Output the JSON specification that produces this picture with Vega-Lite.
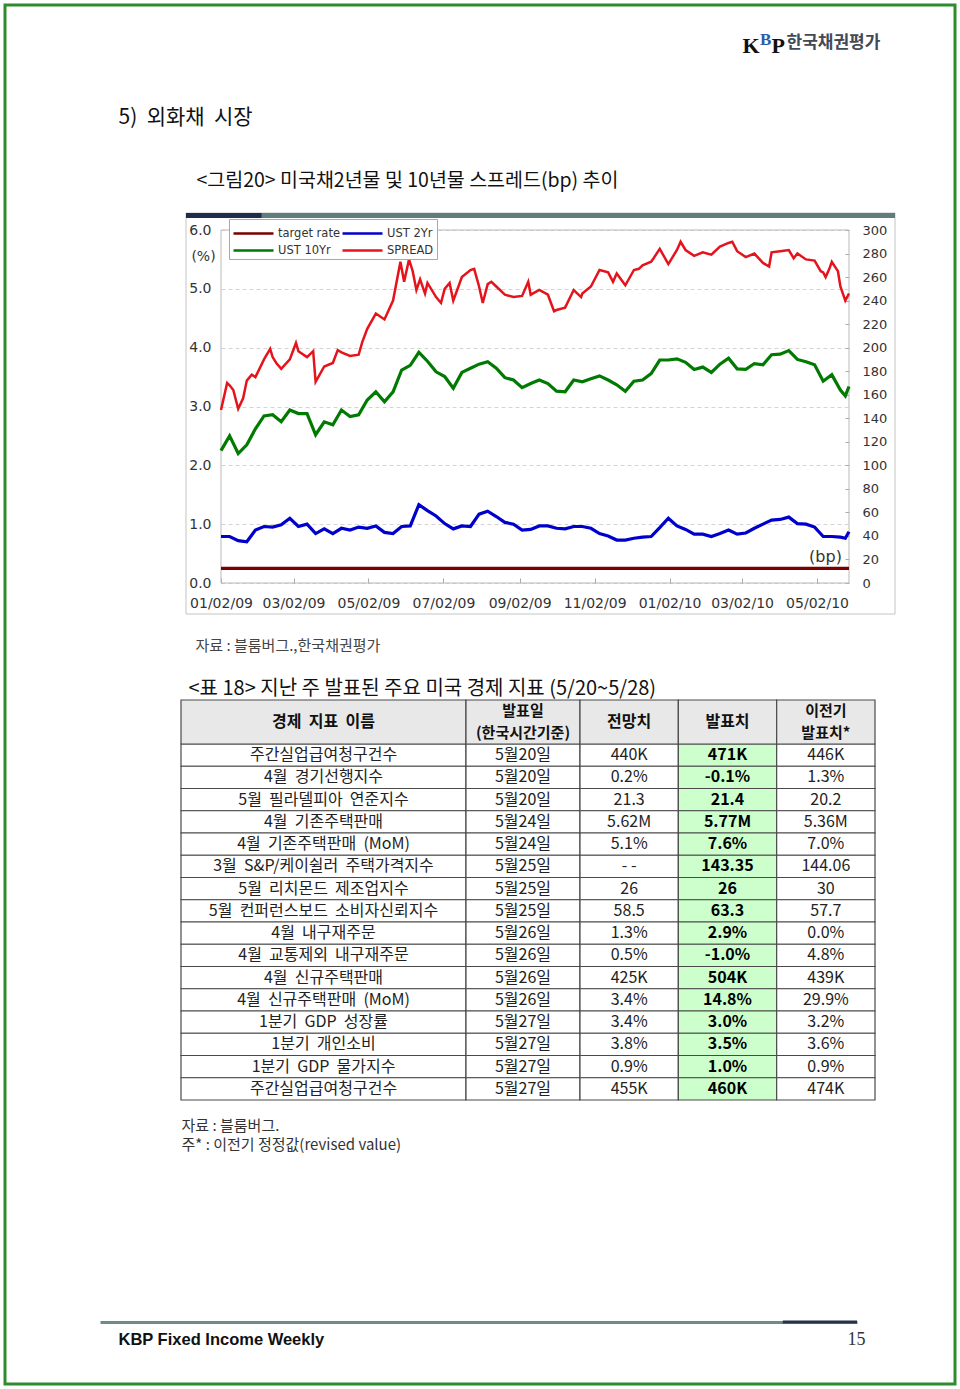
{
  "$schema": "https://vega.github.io/schema/vega-lite/v6.json",
  "width": 950,
  "height": 1379,
  "padding": 5,
  "autosize": {"type": "none"},
  "background": "#ffffff",
  "config": {
    "view": {"stroke": "#2e8b2e", "strokeWidth": 3, "fill": "#ffffff"},
    "font": "DejaVu Sans",
    "text": {"font": "Noto Sans CJK KR"},
    "axis": {"titleFontWeight": "normal"}
  },
  "datasets": {
    "rates": [
      {"d":"2009-01-02","target":0.25,"ust2":0.79,"ust10":2.25},
      {"d":"2009-01-09","target":0.25,"ust2":0.79,"ust10":2.50},
      {"d":"2009-01-16","target":0.25,"ust2":0.72,"ust10":2.20},
      {"d":"2009-01-23","target":0.25,"ust2":0.70,"ust10":2.35},
      {"d":"2009-01-30","target":0.25,"ust2":0.90,"ust10":2.62},
      {"d":"2009-02-06","target":0.25,"ust2":0.96,"ust10":2.84},
      {"d":"2009-02-13","target":0.25,"ust2":0.95,"ust10":2.86},
      {"d":"2009-02-20","target":0.25,"ust2":0.99,"ust10":2.74},
      {"d":"2009-02-27","target":0.25,"ust2":1.10,"ust10":2.94},
      {"d":"2009-03-06","target":0.25,"ust2":0.96,"ust10":2.88},
      {"d":"2009-03-13","target":0.25,"ust2":1.00,"ust10":2.88},
      {"d":"2009-03-20","target":0.25,"ust2":0.84,"ust10":2.52},
      {"d":"2009-03-27","target":0.25,"ust2":0.92,"ust10":2.74},
      {"d":"2009-04-03","target":0.25,"ust2":0.84,"ust10":2.69},
      {"d":"2009-04-10","target":0.25,"ust2":0.93,"ust10":2.94},
      {"d":"2009-04-17","target":0.25,"ust2":0.90,"ust10":2.83},
      {"d":"2009-04-24","target":0.25,"ust2":0.95,"ust10":2.86},
      {"d":"2009-05-01","target":0.25,"ust2":0.93,"ust10":3.11},
      {"d":"2009-05-08","target":0.25,"ust2":0.97,"ust10":3.25},
      {"d":"2009-05-15","target":0.25,"ust2":0.86,"ust10":3.08},
      {"d":"2009-05-22","target":0.25,"ust2":0.84,"ust10":3.25},
      {"d":"2009-05-29","target":0.25,"ust2":0.96,"ust10":3.62},
      {"d":"2009-06-05","target":0.25,"ust2":0.97,"ust10":3.70},
      {"d":"2009-06-12","target":0.25,"ust2":1.33,"ust10":3.92},
      {"d":"2009-06-19","target":0.25,"ust2":1.23,"ust10":3.77},
      {"d":"2009-06-26","target":0.25,"ust2":1.14,"ust10":3.59},
      {"d":"2009-07-03","target":0.25,"ust2":1.01,"ust10":3.51},
      {"d":"2009-07-10","target":0.25,"ust2":0.92,"ust10":3.31},
      {"d":"2009-07-17","target":0.25,"ust2":0.97,"ust10":3.58},
      {"d":"2009-07-24","target":0.25,"ust2":0.96,"ust10":3.65},
      {"d":"2009-07-31","target":0.25,"ust2":1.17,"ust10":3.72},
      {"d":"2009-08-07","target":0.25,"ust2":1.22,"ust10":3.76},
      {"d":"2009-08-14","target":0.25,"ust2":1.13,"ust10":3.65},
      {"d":"2009-08-21","target":0.25,"ust2":1.03,"ust10":3.49},
      {"d":"2009-08-28","target":0.25,"ust2":1.00,"ust10":3.45},
      {"d":"2009-09-04","target":0.25,"ust2":0.90,"ust10":3.32},
      {"d":"2009-09-11","target":0.25,"ust2":0.91,"ust10":3.39},
      {"d":"2009-09-18","target":0.25,"ust2":0.97,"ust10":3.45},
      {"d":"2009-09-25","target":0.25,"ust2":0.97,"ust10":3.39},
      {"d":"2009-10-02","target":0.25,"ust2":0.93,"ust10":3.26},
      {"d":"2009-10-09","target":0.25,"ust2":0.92,"ust10":3.25},
      {"d":"2009-10-16","target":0.25,"ust2":0.96,"ust10":3.45},
      {"d":"2009-10-23","target":0.25,"ust2":0.96,"ust10":3.42},
      {"d":"2009-10-30","target":0.25,"ust2":0.93,"ust10":3.47},
      {"d":"2009-11-06","target":0.25,"ust2":0.84,"ust10":3.52},
      {"d":"2009-11-13","target":0.25,"ust2":0.80,"ust10":3.45},
      {"d":"2009-11-20","target":0.25,"ust2":0.73,"ust10":3.37},
      {"d":"2009-11-27","target":0.25,"ust2":0.73,"ust10":3.26},
      {"d":"2009-12-04","target":0.25,"ust2":0.76,"ust10":3.43},
      {"d":"2009-12-11","target":0.25,"ust2":0.78,"ust10":3.45},
      {"d":"2009-12-18","target":0.25,"ust2":0.79,"ust10":3.56},
      {"d":"2009-12-25","target":0.25,"ust2":0.94,"ust10":3.79},
      {"d":"2010-01-01","target":0.25,"ust2":1.10,"ust10":3.79},
      {"d":"2010-01-08","target":0.25,"ust2":0.97,"ust10":3.81},
      {"d":"2010-01-15","target":0.25,"ust2":0.91,"ust10":3.75},
      {"d":"2010-01-22","target":0.25,"ust2":0.83,"ust10":3.63},
      {"d":"2010-01-29","target":0.25,"ust2":0.83,"ust10":3.67},
      {"d":"2010-02-05","target":0.25,"ust2":0.79,"ust10":3.58},
      {"d":"2010-02-12","target":0.25,"ust2":0.84,"ust10":3.72},
      {"d":"2010-02-19","target":0.25,"ust2":0.90,"ust10":3.82},
      {"d":"2010-02-26","target":0.25,"ust2":0.83,"ust10":3.64},
      {"d":"2010-03-05","target":0.25,"ust2":0.85,"ust10":3.63},
      {"d":"2010-03-12","target":0.25,"ust2":0.93,"ust10":3.73},
      {"d":"2010-03-19","target":0.25,"ust2":1.00,"ust10":3.71},
      {"d":"2010-03-26","target":0.25,"ust2":1.07,"ust10":3.88},
      {"d":"2010-04-02","target":0.25,"ust2":1.08,"ust10":3.89},
      {"d":"2010-04-09","target":0.25,"ust2":1.12,"ust10":3.95},
      {"d":"2010-04-16","target":0.25,"ust2":1.01,"ust10":3.80},
      {"d":"2010-04-23","target":0.25,"ust2":1.00,"ust10":3.76},
      {"d":"2010-04-30","target":0.25,"ust2":0.95,"ust10":3.71},
      {"d":"2010-05-07","target":0.25,"ust2":0.79,"ust10":3.43},
      {"d":"2010-05-14","target":0.25,"ust2":0.79,"ust10":3.54},
      {"d":"2010-05-21","target":0.25,"ust2":0.78,"ust10":3.28},
      {"d":"2010-05-25","target":0.25,"ust2":0.76,"ust10":3.18},
      {"d":"2010-05-28","target":0.25,"ust2":0.87,"ust10":3.34}
    ],
    "spr": [
      {"d":"2009-01-02","spread":147},{"d":"2009-01-07","spread":170},{"d":"2009-01-09","spread":168},
      {"d":"2009-01-12","spread":164},{"d":"2009-01-16","spread":148},{"d":"2009-01-20","spread":157},
      {"d":"2009-01-23","spread":172},{"d":"2009-01-27","spread":177},{"d":"2009-01-30","spread":175},
      {"d":"2009-02-06","spread":190},{"d":"2009-02-11","spread":199},{"d":"2009-02-13","spread":192},
      {"d":"2009-02-16","spread":187},{"d":"2009-02-20","spread":182},{"d":"2009-02-27","spread":190},
      {"d":"2009-03-04","spread":204},{"d":"2009-03-06","spread":197},{"d":"2009-03-13","spread":192},
      {"d":"2009-03-18","spread":197},{"d":"2009-03-20","spread":171},{"d":"2009-03-27","spread":184},
      {"d":"2009-04-03","spread":187},{"d":"2009-04-07","spread":198},{"d":"2009-04-10","spread":196},
      {"d":"2009-04-17","spread":193},{"d":"2009-04-24","spread":194},{"d":"2009-04-27","spread":205},
      {"d":"2009-05-01","spread":216},{"d":"2009-05-08","spread":229},{"d":"2009-05-15","spread":224},
      {"d":"2009-05-22","spread":240},{"d":"2009-05-28","spread":273},{"d":"2009-05-31","spread":256},
      {"d":"2009-06-04","spread":275},{"d":"2009-06-07","spread":265},{"d":"2009-06-10","spread":249},
      {"d":"2009-06-13","spread":258},{"d":"2009-06-17","spread":246},{"d":"2009-06-19","spread":255},
      {"d":"2009-06-26","spread":243},{"d":"2009-06-30","spread":238},{"d":"2009-07-03","spread":250},
      {"d":"2009-07-07","spread":255},{"d":"2009-07-10","spread":240},{"d":"2009-07-17","spread":260},
      {"d":"2009-07-24","spread":266},{"d":"2009-07-27","spread":267},{"d":"2009-07-31","spread":252},
      {"d":"2009-08-03","spread":238},{"d":"2009-08-07","spread":254},{"d":"2009-08-10","spread":256},
      {"d":"2009-08-14","spread":252},{"d":"2009-08-21","spread":245},{"d":"2009-08-28","spread":243},
      {"d":"2009-09-04","spread":244},{"d":"2009-09-09","spread":256},{"d":"2009-09-11","spread":245},
      {"d":"2009-09-18","spread":249},{"d":"2009-09-25","spread":245},{"d":"2009-09-30","spread":231},
      {"d":"2009-10-02","spread":232},{"d":"2009-10-09","spread":234},{"d":"2009-10-16","spread":249},
      {"d":"2009-10-22","spread":243},{"d":"2009-10-23","spread":246},{"d":"2009-10-30","spread":252},
      {"d":"2009-11-06","spread":266},{"d":"2009-11-13","spread":264},{"d":"2009-11-17","spread":256},
      {"d":"2009-11-20","spread":263},{"d":"2009-11-27","spread":253},{"d":"2009-12-04","spread":266},
      {"d":"2009-12-08","spread":267},{"d":"2009-12-11","spread":270},{"d":"2009-12-18","spread":273},
      {"d":"2009-12-20","spread":276},{"d":"2009-12-25","spread":284},{"d":"2010-01-01","spread":271},
      {"d":"2010-01-08","spread":283},{"d":"2010-01-11","spread":290},{"d":"2010-01-15","spread":283},
      {"d":"2010-01-22","spread":278},{"d":"2010-01-29","spread":281},{"d":"2010-02-05","spread":279},
      {"d":"2010-02-12","spread":286},{"d":"2010-02-19","spread":289},{"d":"2010-02-22","spread":290},
      {"d":"2010-02-26","spread":282},{"d":"2010-03-05","spread":277},{"d":"2010-03-12","spread":280},
      {"d":"2010-03-19","spread":272},{"d":"2010-03-24","spread":269},{"d":"2010-03-26","spread":281},
      {"d":"2010-04-02","spread":282},{"d":"2010-04-09","spread":283},{"d":"2010-04-13","spread":276},
      {"d":"2010-04-16","spread":280},{"d":"2010-04-23","spread":275},{"d":"2010-04-30","spread":274},
      {"d":"2010-05-05","spread":265},{"d":"2010-05-07","spread":264},{"d":"2010-05-09","spread":260},
      {"d":"2010-05-12","spread":267},{"d":"2010-05-14","spread":273},{"d":"2010-05-19","spread":265},
      {"d":"2010-05-21","spread":252},{"d":"2010-05-25","spread":240},{"d":"2010-05-28","spread":246}
    ],
    "tbl": [
      {"no":1,"name":"주간실업급여청구건수","date":"5월20일","fc":"440K","act":"471K","prev":"446K"},
      {"no":2,"name":"4월\u00a0\u00a0경기선행지수","date":"5월20일","fc":"0.2%","act":"-0.1%","prev":"1.3%"},
      {"no":3,"name":"5월\u00a0\u00a0필라델피아\u00a0\u00a0연준지수","date":"5월20일","fc":"21.3","act":"21.4","prev":"20.2"},
      {"no":4,"name":"4월\u00a0\u00a0기존주택판매","date":"5월24일","fc":"5.62M","act":"5.77M","prev":"5.36M"},
      {"no":5,"name":"4월\u00a0\u00a0기존주택판매\u00a0\u00a0(MoM)","date":"5월24일","fc":"5.1%","act":"7.6%","prev":"7.0%"},
      {"no":6,"name":"3월\u00a0\u00a0S&P/케이쉴러\u00a0\u00a0주택가격지수","date":"5월25일","fc":"- -","act":"143.35","prev":"144.06"},
      {"no":7,"name":"5월\u00a0\u00a0리치몬드\u00a0\u00a0제조업지수","date":"5월25일","fc":"26","act":"26","prev":"30"},
      {"no":8,"name":"5월\u00a0\u00a0컨퍼런스보드\u00a0\u00a0소비자신뢰지수","date":"5월25일","fc":"58.5","act":"63.3","prev":"57.7"},
      {"no":9,"name":"4월\u00a0\u00a0내구재주문","date":"5월26일","fc":"1.3%","act":"2.9%","prev":"0.0%"},
      {"no":10,"name":"4월\u00a0\u00a0교통제외\u00a0\u00a0내구재주문","date":"5월26일","fc":"0.5%","act":"-1.0%","prev":"4.8%"},
      {"no":11,"name":"4월\u00a0\u00a0신규주택판매","date":"5월26일","fc":"425K","act":"504K","prev":"439K"},
      {"no":12,"name":"4월\u00a0\u00a0신규주택판매\u00a0\u00a0(MoM)","date":"5월26일","fc":"3.4%","act":"14.8%","prev":"29.9%"},
      {"no":13,"name":"1분기\u00a0\u00a0GDP\u00a0\u00a0성장률","date":"5월27일","fc":"3.4%","act":"3.0%","prev":"3.2%"},
      {"no":14,"name":"1분기\u00a0\u00a0개인소비","date":"5월27일","fc":"3.8%","act":"3.5%","prev":"3.6%"},
      {"no":15,"name":"1분기\u00a0\u00a0GDP\u00a0\u00a0물가지수","date":"5월27일","fc":"0.9%","act":"1.0%","prev":"0.9%"},
      {"no":16,"name":"주간실업급여청구건수","date":"5월27일","fc":"455K","act":"460K","prev":"474K"}
    ],
    "heads": [
      {"col":"name","l1":"경제\u00a0\u00a0지표\u00a0\u00a0이름","l2":""},
      {"col":"date","l1":"발표일","l2":"(한국시간기준)"},
      {"col":"fc","l1":"전망치","l2":""},
      {"col":"act","l1":"발표치","l2":""},
      {"col":"prev","l1":"이전기","l2":"발표치*"}
    ]
  },
  "layer": [
    {
      "data": {"values": [{}]},
      "encoding": {
        "x": {"datum": 0, "type": "quantitative",
          "scale": {"domain": [0, 1], "range": [181, 890], "nice": false, "zero": false}, "axis": null},
        "x2": {"datum": 1},
        "y": {"datum": 0, "type": "quantitative",
          "scale": {"domain": [0, 1], "range": [609, 208], "nice": false, "zero": false}, "axis": null},
        "y2": {"datum": 1}
      },
      "layer": [
        {"mark": {"type": "rect", "fillOpacity": 0, "stroke": "#c4c4c4", "strokeWidth": 1}},
        {"mark": {"type": "rect", "color": "#1e2d4b"},
         "encoding": {"x": {"datum": 0, "type": "quantitative", "axis": null}, "x2": {"datum": 0.107},
                      "y": {"datum": 0.9875, "type": "quantitative", "axis": null}, "y2": {"datum": 1}}},
        {"mark": {"type": "rect", "color": "#5f7d7d"},
         "encoding": {"x": {"datum": 0.107, "type": "quantitative", "axis": null}, "x2": {"datum": 1},
                      "y": {"datum": 0.9875, "type": "quantitative", "axis": null}, "y2": {"datum": 1}}}
      ]
    },
    {
      "data": {"values": [{}]},
      "mark": {"type": "rect", "fillOpacity": 0, "stroke": "#b9b9b9", "strokeWidth": 1},
      "encoding": {
        "x": {"datum": {"year": 2009, "month": 1, "date": 2, "utc": true}, "type": "temporal",
          "scale": {"type": "utc",
            "domain": [{"year": 2009, "month": 1, "date": 2, "utc": true}, {"year": 2010, "month": 5, "date": 28, "utc": true}],
            "range": [216, 844]}, "axis": null},
        "x2": {"datum": {"year": 2010, "month": 5, "date": 28, "utc": true}},
        "y": {"datum": 0, "type": "quantitative",
          "scale": {"domain": [0, 6], "range": [578, 225], "nice": false, "zero": false}, "axis": null},
        "y2": {"datum": 6}
      }
    },
    {
      "encoding": {
        "x": {"field": "d", "type": "temporal",
          "scale": {"type": "utc",
            "domain": [{"year": 2009, "month": 1, "date": 2, "utc": true}, {"year": 2010, "month": 5, "date": 28, "utc": true}],
            "range": [216, 844]},
          "axis": {"orient": "bottom", "offset": -801,
            "values": [
              {"year": 2009, "month": 1, "date": 2, "utc": true},
              {"year": 2009, "month": 3, "date": 2, "utc": true},
              {"year": 2009, "month": 5, "date": 2, "utc": true},
              {"year": 2009, "month": 7, "date": 2, "utc": true},
              {"year": 2009, "month": 9, "date": 2, "utc": true},
              {"year": 2009, "month": 11, "date": 2, "utc": true},
              {"year": 2010, "month": 1, "date": 2, "utc": true},
              {"year": 2010, "month": 3, "date": 2, "utc": true},
              {"year": 2010, "month": 5, "date": 2, "utc": true}],
            "format": "%m/%d/%y", "labelFont": "DejaVu Sans", "labelFontSize": 14, "labelColor": "#333333",
            "labelPadding": 18, "labelFlush": false, "labelOverlap": false,
            "tickSize": -5, "tickColor": "#aaaaaa", "domain": false, "grid": false,
            "title": "자료\u00a0:\u00a0블룸버그.,한국채권평가", "titleFont": "Noto Sans CJK KR", "titleFontSize": 15,
            "titleFontWeight": "normal", "titleColor": "#444444", "titleAlign": "left", "titleBaseline": "middle",
            "titleX": 190, "titleY": 62}}
      },
      "layer": [
        {"data": {"name": "rates"},
         "transform": [{"fold": ["target", "ust2", "ust10"], "as": ["s", "v"]}],
         "mark": {"type": "line"},
         "encoding": {
           "y": {"field": "v", "type": "quantitative",
             "scale": {"domain": [0, 6], "range": [578, 225], "nice": false, "zero": false},
             "axis": {"orient": "left", "offset": -216, "values": [0, 1, 2, 3, 4, 5, 6], "format": ".1f",
               "labelFont": "DejaVu Sans", "labelFontSize": 14, "labelColor": "#333333", "labelPadding": 10,
               "labelFlush": false, "ticks": false, "domain": false,
               "grid": true, "gridColor": "#d4d4d4", "gridDash": [4, 3], "gridWidth": 1,
               "title": "(%)", "titleAngle": 0, "titleFont": "DejaVu Sans", "titleFontSize": 14,
               "titleFontWeight": "normal", "titleColor": "#333333", "titleAlign": "center", "titleBaseline": "middle",
               "titleX": -18, "titleY": 251}},
           "color": {"field": "s", "type": "nominal",
             "scale": {"domain": ["target", "ust10", "ust2", "spread"], "range": ["#7a0000", "#007a00", "#0000cc", "#e5131b"]},
             "legend": {"orient": "none", "legendX": 224, "legendY": 214, "columns": 2, "direction": "vertical", "title": null,
               "symbolType": "M-2,0H2", "symbolSize": 400, "symbolStrokeWidth": 2.6, "symbolOffset": 10,
               "labelExpr": "datum.label == 'target' ? 'target rate' : datum.label == 'ust2' ? 'UST 2Yr' : datum.label == 'ust10' ? 'UST 10Yr' : 'SPREAD'",
               "labelFont": "DejaVu Sans", "labelFontSize": 11.5, "labelColor": "#333333",
               "strokeColor": "#a8a8a8", "fillColor": "#ffffff", "padding": 3, "columnPadding": -3, "rowPadding": -6,
               "labelOffset": 13}},
           "strokeWidth": {"field": "s", "type": "nominal",
             "scale": {"type": "ordinal", "domain": ["target", "ust10", "ust2", "spread"], "range": [3.2, 3.2, 3.2, 1.5]},
             "legend": null}
         }},
        {"data": {"name": "spr"},
         "transform": [{"fold": ["spread"], "as": ["s", "v"]}],
         "mark": {"type": "line"},
         "encoding": {
           "y": {"field": "v", "type": "quantitative",
             "scale": {"domain": [0, 300], "range": [578, 225], "nice": false, "zero": false},
             "axis": {"orient": "right", "offset": -106,
               "values": [0, 20, 40, 60, 80, 100, 120, 140, 160, 180, 200, 220, 240, 260, 280, 300], "format": "d",
               "labelFont": "DejaVu Sans", "labelFontSize": 13, "labelColor": "#333333", "labelPadding": 17,
               "labelFlush": false, "tickSize": -4, "tickColor": "#aaaaaa", "domain": false, "grid": false,
               "title": "(bp)", "titleAngle": 0, "titleFont": "DejaVu Sans", "titleFontSize": 16,
               "titleFontWeight": "normal", "titleColor": "#333333", "titleAlign": "center", "titleBaseline": "middle",
               "titleX": -24, "titleY": 551}},
           "color": {"field": "s", "type": "nominal", "legend": null},
           "strokeWidth": {"field": "s", "type": "nominal", "legend": null}
         }}
      ],
      "resolve": {"scale": {"y": "independent"}, "axis": {"y": "independent"}}
    },
    {
      "layer": [
        {
          "encoding": {"x": {"datum": "name", "type": "nominal",
            "scale": {"type": "band", "range": [176, 461], "paddingInner": 0, "paddingOuter": 0},
            "axis": {"orient": "top", "offset": 0, "domain": false, "labels": false, "ticks": false, "grid": false,
              "title": "<표 18> 지난 주 발표된 주요 미국 경제 지표 (5/20~5/28)",
              "titleFont": "Noto Sans CJK KR", "titleFontSize": 20, "titleFontWeight": "normal", "titleColor": "#111111",
              "titleAlign": "left", "titleBaseline": "middle", "titleX": 183, "titleY": 683}}},
          "layer": [
            {"data": {"name": "tbl"},
             "mark": {"type": "rect", "fill": "#ffffff", "stroke": "#4a4a4a", "strokeWidth": 1.2},
             "encoding": {"y": {"field": "no", "type": "ordinal",
               "scale": {"type": "band", "range": [739, 1095], "paddingInner": 0, "paddingOuter": 0},
               "axis": {"orient": "left", "offset": 0, "domain": false, "labels": false, "ticks": false, "grid": false,
                 "title": ["자료\u00a0:\u00a0블룸버그.", "주*\u00a0:\u00a0이전기\u00a0정정값(revised value)"],
                 "titleFont": "Noto Sans CJK KR", "titleFontSize": 15, "titleFontWeight": "normal", "titleColor": "#333333",
                 "titleAngle": 0, "titleAlign": "left", "titleBaseline": "top", "titleLineHeight": 19,
                 "titleX": 176, "titleY": 1113}}}},
            {"data": {"name": "tbl"},
             "mark": {"type": "text", "fontSize": 16, "color": "#222222"},
             "encoding": {"y": {"field": "no", "type": "ordinal",
               "scale": {"type": "band", "range": [739, 1095], "paddingInner": 0, "paddingOuter": 0}, "axis": null},
               "text": {"field": "name"}}},
            {"data": {"name": "heads"}, "transform": [{"filter": "datum.col === 'name'"}],
             "mark": {"type": "rect", "fill": "#e8e8e8", "stroke": "#4a4a4a", "strokeWidth": 1.2},
             "encoding": {"y": {"datum": "h", "type": "nominal",
               "scale": {"type": "band", "range": [695, 739], "paddingInner": 0, "paddingOuter": 0}, "axis": null}}},
            {"data": {"name": "heads"}, "transform": [{"filter": "datum.col === 'name'"}],
             "mark": {"type": "text", "fontSize": 16, "fontWeight": "bold", "color": "#111111"},
             "encoding": {"y": {"datum": "h", "type": "nominal",
               "scale": {"type": "band", "range": [695, 739], "paddingInner": 0, "paddingOuter": 0}, "axis": null},
               "text": {"field": "l1"}}}
          ],
          "resolve": {"scale": {"y": "independent"}, "axis": {"y": "independent"}}
        },
        {
          "encoding": {"x": {"datum": "date", "type": "nominal",
            "scale": {"type": "band", "range": [461, 575], "paddingInner": 0, "paddingOuter": 0},
            "axis": {"orient": "top", "offset": 0, "domain": false, "labels": false, "ticks": false, "grid": false,
              "title": "B", "titleFont": "Liberation Serif", "titleFontSize": 17, "titleFontWeight": "bold", "titleColor": "#2a5caa",
              "titleAlign": "left", "titleBaseline": "alphabetic", "titleX": 754.5, "titleY": 39}}},
          "layer": [
            {"data": {"name": "tbl"},
             "mark": {"type": "rect", "fill": "#ffffff", "stroke": "#4a4a4a", "strokeWidth": 1.2},
             "encoding": {"y": {"field": "no", "type": "ordinal",
               "scale": {"type": "band", "range": [739, 1095], "paddingInner": 0, "paddingOuter": 0}, "axis": null}}},
            {"data": {"name": "tbl"},
             "mark": {"type": "text", "fontSize": 16, "color": "#222222"},
             "encoding": {"y": {"field": "no", "type": "ordinal",
               "scale": {"type": "band", "range": [739, 1095], "paddingInner": 0, "paddingOuter": 0},
               "axis": {"orient": "left", "offset": 0, "domain": false, "labels": false, "ticks": false, "grid": false,
                 "title": "5)\u00a0\u00a0외화채\u00a0\u00a0시장",
                 "titleFont": "Noto Sans CJK KR", "titleFontSize": 21, "titleFontWeight": "normal", "titleColor": "#111111",
                 "titleAngle": 0, "titleAlign": "left", "titleBaseline": "middle", "titleX": 113, "titleY": 112}},
               "text": {"field": "date"}}},
            {"data": {"name": "heads"}, "transform": [{"filter": "datum.col === 'date'"}],
             "mark": {"type": "rect", "fill": "#e8e8e8", "stroke": "#4a4a4a", "strokeWidth": 1.2},
             "encoding": {"y": {"datum": "h", "type": "nominal",
               "scale": {"type": "band", "range": [695, 739], "paddingInner": 0, "paddingOuter": 0},
               "axis": {"orient": "left", "offset": 0, "domain": false, "labels": false, "ticks": false, "grid": false,
                 "title": "<그림20> 미국채2년물 및 10년물 스프레드(bp) 추이",
                 "titleFont": "Noto Sans CJK KR", "titleFontSize": 19.5, "titleFontWeight": "normal", "titleColor": "#111111",
                 "titleAngle": 0, "titleAlign": "left", "titleBaseline": "middle", "titleX": 191, "titleY": 175}}}},
            {"data": {"name": "heads"}, "transform": [{"filter": "datum.col === 'date'"}],
             "mark": {"type": "text", "fontSize": 15, "fontWeight": "bold", "dy": -11, "color": "#111111"},
             "encoding": {"y": {"datum": "h", "type": "nominal",
               "scale": {"type": "band", "range": [695, 739], "paddingInner": 0, "paddingOuter": 0}, "axis": null},
               "text": {"field": "l1"}}},
            {"data": {"name": "heads"}, "transform": [{"filter": "datum.col === 'date'"}],
             "mark": {"type": "text", "fontSize": 15, "fontWeight": "bold", "dy": 11, "color": "#111111"},
             "encoding": {"y": {"datum": "h", "type": "nominal",
               "scale": {"type": "band", "range": [695, 739], "paddingInner": 0, "paddingOuter": 0}, "axis": null},
               "text": {"field": "l2"}}}
          ],
          "resolve": {"scale": {"y": "independent"}, "axis": {"y": "independent"}}
        },
        {
          "encoding": {"x": {"field": "col", "type": "nominal",
            "scale": {"type": "band", "domain": ["fc", "act", "prev"], "range": [575, 870], "paddingInner": 0, "paddingOuter": 0},
            "axis": {"orient": "top", "offset": 0, "domain": false, "labels": false, "ticks": false, "grid": false,
              "title": "한국채권평가", "titleFont": "Noto Sans CJK KR", "titleFontSize": 17, "titleFontWeight": "bold", "titleColor": "#404a58",
              "titleAlign": "left", "titleBaseline": "middle", "titleX": 781, "titleY": 37}}},
          "layer": [
            {"data": {"name": "tbl"}, "transform": [{"fold": ["fc", "act", "prev"], "as": ["col", "val"]}],
             "mark": {"type": "rect", "stroke": "#4a4a4a", "strokeWidth": 1.2},
             "encoding": {
               "y": {"field": "no", "type": "ordinal",
                 "scale": {"type": "band", "range": [739, 1095], "paddingInner": 0, "paddingOuter": 0},
                 "axis": {"orient": "left", "offset": 0, "domain": false, "labels": false, "ticks": false, "grid": false,
                   "title": "K", "titleFont": "Liberation Serif", "titleFontSize": 22, "titleFontWeight": "bold", "titleColor": "#111111",
                   "titleAngle": 0, "titleAlign": "left", "titleBaseline": "alphabetic", "titleX": 737, "titleY": 47}},
               "fill": {"condition": {"test": "datum.col === 'act'", "value": "#ccffcc"}, "value": "#ffffff"}}},
            {"data": {"name": "tbl"}, "transform": [{"fold": ["fc", "act", "prev"], "as": ["col", "val"]}, {"filter": "datum.col !== 'act'"}],
             "mark": {"type": "text", "fontSize": 16, "color": "#222222"},
             "encoding": {"y": {"field": "no", "type": "ordinal",
               "scale": {"type": "band", "range": [739, 1095], "paddingInner": 0, "paddingOuter": 0},
               "axis": {"orient": "left", "offset": 0, "domain": false, "labels": false, "ticks": false, "grid": false,
                   "title": "P", "titleFont": "Liberation Serif", "titleFontSize": 22, "titleFontWeight": "bold", "titleColor": "#111111",
                   "titleAngle": 0, "titleAlign": "left", "titleBaseline": "alphabetic", "titleX": 766, "titleY": 47}},
               "text": {"field": "val"}}},
            {"data": {"name": "tbl"}, "transform": [{"fold": ["fc", "act", "prev"], "as": ["col", "val"]}, {"filter": "datum.col === 'act'"}],
             "mark": {"type": "text", "fontSize": 16, "fontWeight": "bold", "color": "#000000"},
             "encoding": {"y": {"field": "no", "type": "ordinal",
               "scale": {"type": "band", "range": [739, 1095], "paddingInner": 0, "paddingOuter": 0}, "axis": null},
               "text": {"field": "val"}}},
            {"data": {"name": "heads"}, "transform": [{"filter": "datum.col === 'fc' || datum.col === 'act' || datum.col === 'prev'"}],
             "mark": {"type": "rect", "fill": "#e8e8e8", "stroke": "#4a4a4a", "strokeWidth": 1.2},
             "encoding": {"y": {"datum": "h", "type": "nominal",
               "scale": {"type": "band", "range": [695, 739], "paddingInner": 0, "paddingOuter": 0}, "axis": null}}},
            {"data": {"name": "heads"}, "transform": [{"filter": "datum.col === 'fc' || datum.col === 'act'"}],
             "mark": {"type": "text", "fontSize": 16, "fontWeight": "bold", "color": "#111111"},
             "encoding": {"y": {"datum": "h", "type": "nominal",
               "scale": {"type": "band", "range": [695, 739], "paddingInner": 0, "paddingOuter": 0}, "axis": null},
               "text": {"field": "l1"}}},
            {"data": {"name": "heads"}, "transform": [{"filter": "datum.col === 'prev'"}],
             "mark": {"type": "text", "fontSize": 15, "fontWeight": "bold", "dy": -11, "color": "#111111"},
             "encoding": {"y": {"datum": "h", "type": "nominal",
               "scale": {"type": "band", "range": [695, 739], "paddingInner": 0, "paddingOuter": 0}, "axis": null},
               "text": {"field": "l1"}}},
            {"data": {"name": "heads"}, "transform": [{"filter": "datum.col === 'prev'"}],
             "mark": {"type": "text", "fontSize": 15, "fontWeight": "bold", "dy": 11, "color": "#111111"},
             "encoding": {"y": {"datum": "h", "type": "nominal",
               "scale": {"type": "band", "range": [695, 739], "paddingInner": 0, "paddingOuter": 0}, "axis": null},
               "text": {"field": "l2"}}}
          ],
          "resolve": {"scale": {"y": "independent"}, "axis": {"y": "independent"}}
        }
      ],
      "resolve": {"scale": {"x": "independent", "y": "independent"}, "axis": {"x": "independent", "y": "independent"}}
    },
    {
      "data": {"values": [{}]},
      "mark": {"type": "rule", "color": "#25324a", "strokeWidth": 3},
      "encoding": {
        "x": {"datum": 0.902, "type": "quantitative",
          "scale": {"domain": [0, 1], "range": [95, 852], "nice": false, "zero": false},
          "axis": {"orient": "bottom", "offset": -62, "domain": true, "domainColor": "#6e8a8a", "domainWidth": 3,
            "labels": false, "ticks": false, "grid": false,
            "title": "KBP Fixed Income Weekly", "titleFont": "Liberation Sans", "titleFontSize": 16.5, "titleFontWeight": "bold",
            "titleColor": "#111111", "titleAlign": "left", "titleBaseline": "middle", "titleX": 113, "titleY": 17}},
        "x2": {"datum": 1},
        "y": {"datum": 0, "type": "quantitative",
          "scale": {"domain": [0, 1], "range": [1317, 1316], "nice": false, "zero": false},
          "axis": {"orient": "left", "offset": 0, "domain": false, "labels": false, "ticks": false, "grid": false,
            "title": "15", "titleFont": "Liberation Serif", "titleFontSize": 18, "titleFontWeight": "normal", "titleColor": "#333333",
            "titleAngle": 0, "titleAlign": "center", "titleBaseline": "middle", "titleX": 851, "titleY": 1334}}
      }
    }
  ],
  "resolve": {"scale": {"x": "independent", "y": "independent"}, "axis": {"x": "independent", "y": "independent"}}
}
